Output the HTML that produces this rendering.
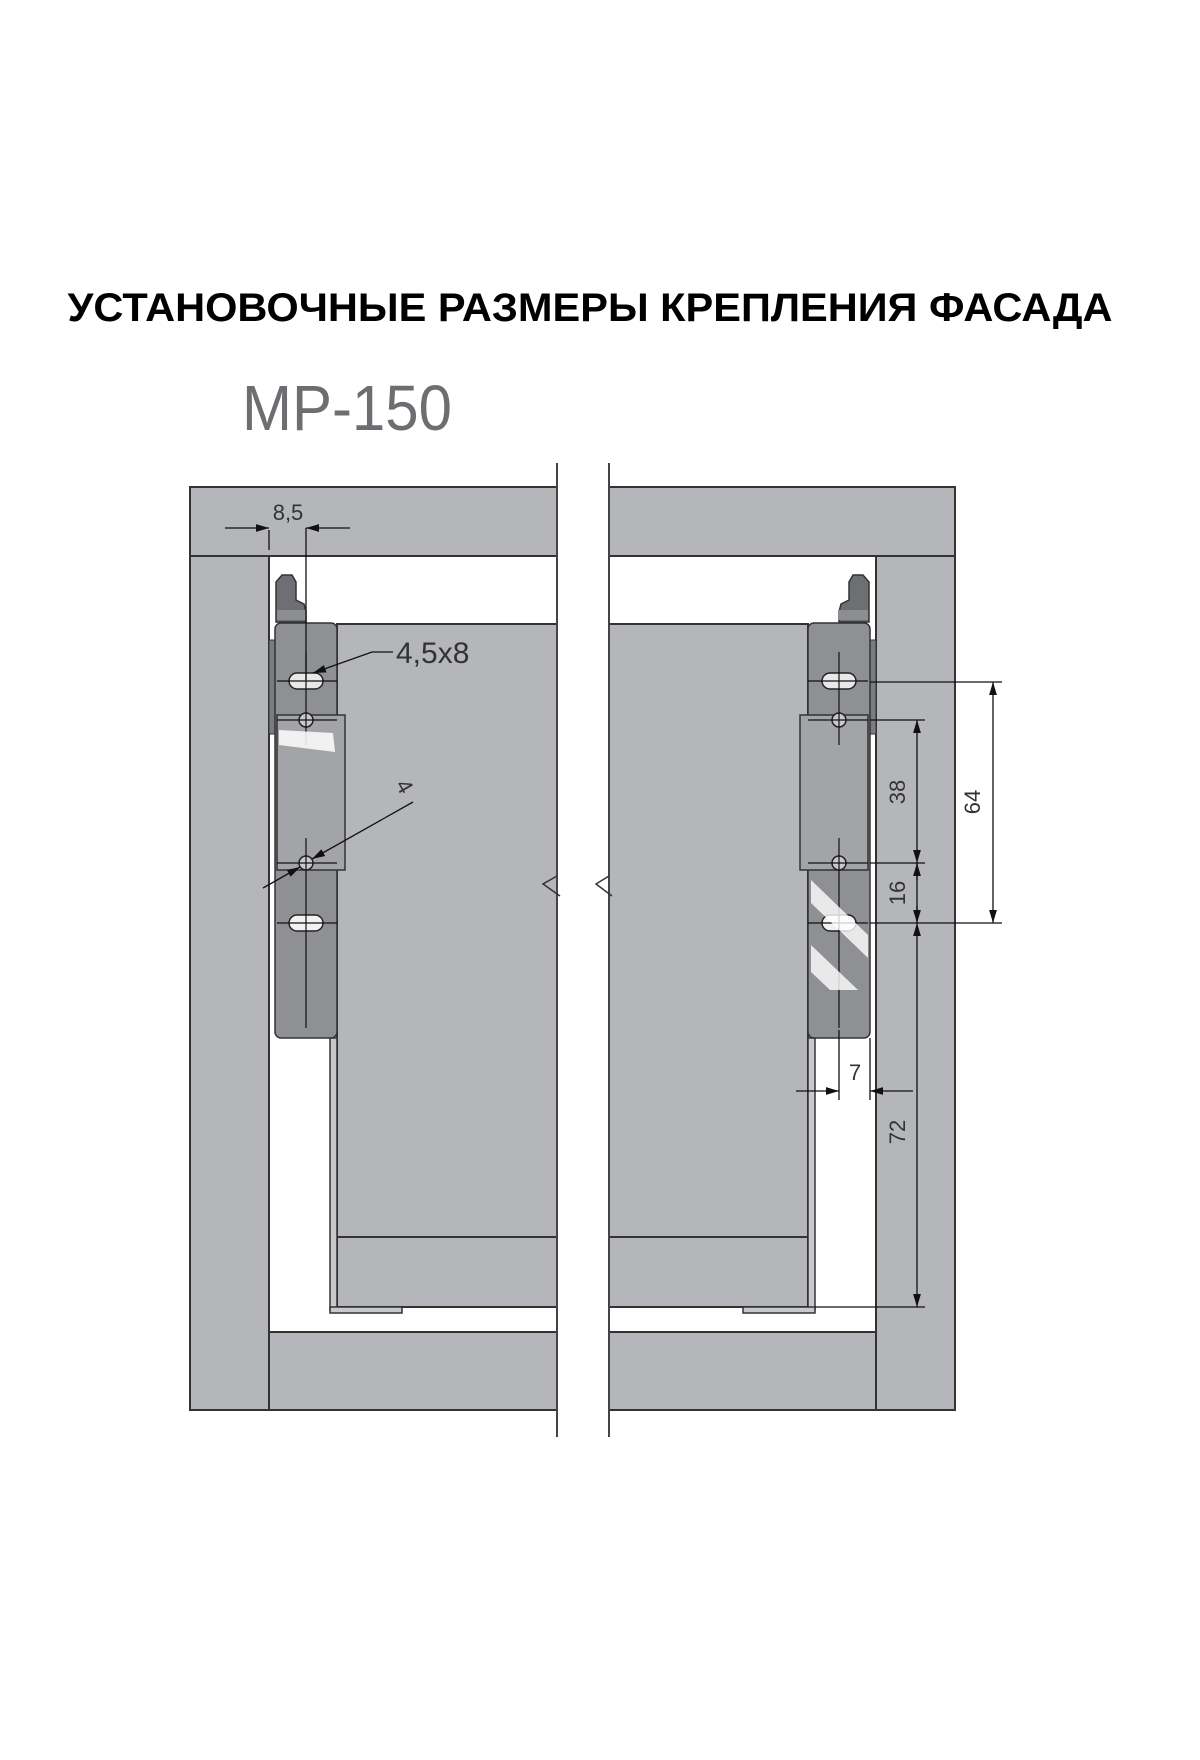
<!DOCTYPE html>
<html><head><meta charset="utf-8"><style>html,body{margin:0;padding:0;background:#fff}svg{display:block}</style></head>
<body>
<svg width="1200" height="1760" viewBox="0 0 1200 1760" xmlns="http://www.w3.org/2000/svg" font-family="Liberation Sans, sans-serif">
<defs>
<marker id="a" viewBox="0 0 10 10" refX="10" refY="5" markerWidth="13" markerHeight="13" orient="auto-start-reverse" markerUnits="userSpaceOnUse"><path d="M0,2 L10,5 L0,8z" fill="#111"/></marker>
<g id="br">
  <path d="M276,622 L276,582 L282,575 L292,575 L296,582 L296,600 L304,604 L306,612 L306,622 Z" fill="#6e6f72" stroke="#333" stroke-width="1.5"/>
  <rect x="277" y="610" width="30" height="10" fill="#8c8d90"/>
  <rect x="269" y="640" width="6" height="94" fill="#7b7c7f" stroke="#333" stroke-width="1"/>
  <rect x="275" y="623" width="62" height="415" rx="6" fill="#8f9093" stroke="#333" stroke-width="1.5"/>
  <rect x="277" y="715" width="68" height="155" fill="#a3a4a7" stroke="#333" stroke-width="1.5"/>
  <rect x="289" y="673" width="34" height="16" rx="8" fill="#e8e8e8" stroke="#222" stroke-width="1.5"/>
  <circle cx="306" cy="720" r="7" fill="#c9c9c9" stroke="#222" stroke-width="1.5"/>
  <circle cx="306" cy="863" r="7" fill="#c9c9c9" stroke="#222" stroke-width="1.5"/>
  <rect x="289" y="915" width="34" height="16" rx="8" fill="#f2f2f2" stroke="#222" stroke-width="1.5"/>
  <line x1="306" y1="652" x2="306" y2="745" stroke="#111" stroke-width="1.2"/>
  <line x1="306" y1="838" x2="306" y2="1028" stroke="#111" stroke-width="1.2"/>
  <line x1="277" y1="681" x2="337" y2="681" stroke="#111" stroke-width="1.2"/>
  <line x1="277" y1="720" x2="337" y2="720" stroke="#111" stroke-width="1.2"/>
  <line x1="277" y1="863" x2="337" y2="863" stroke="#111" stroke-width="1.2"/>
  <line x1="277" y1="923" x2="337" y2="923" stroke="#111" stroke-width="1.2"/>
</g>
</defs>

<text x="590" y="321" text-anchor="middle" font-size="40" font-weight="bold" fill="#000" textLength="1045" lengthAdjust="spacingAndGlyphs">УСТАНОВОЧНЫЕ РАЗМЕРЫ КРЕПЛЕНИЯ ФАСАДА</text>
<text x="242" y="430" font-size="64" fill="#6d6e71" textLength="210" lengthAdjust="spacingAndGlyphs">MP-150</text>

<g stroke="#333" stroke-width="2" fill="#b5b6b9">
  <rect x="190" y="487" width="367" height="69"/>
  <rect x="609" y="487" width="346" height="69"/>
  <rect x="190" y="556" width="79" height="854"/>
  <rect x="876" y="556" width="79" height="854"/>
  <rect x="269" y="1332" width="288" height="78"/>
  <rect x="609" y="1332" width="267" height="78"/>
  <path d="M337,624 L557,624 L557,1307 L337,1307 Z"/>
  <path d="M609,624 L808,624 L808,1307 L609,1307 Z"/>
  <line x1="337" y1="1237" x2="557" y2="1237"/>
  <line x1="609" y1="1237" x2="808" y2="1237"/>
  <rect x="330" y="1038" width="7" height="272" fill="#c8c9cb" stroke-width="1.5"/>
  <rect x="808" y="1038" width="7" height="272" fill="#c8c9cb" stroke-width="1.5"/>
  <rect x="330" y="1307" width="72" height="6" fill="#c8c9cb" stroke-width="1.5"/>
  <rect x="743" y="1307" width="72" height="6" fill="#c8c9cb" stroke-width="1.5"/>
</g>
<line x1="557" y1="463" x2="557" y2="1437" stroke="#444" stroke-width="2"/>
<line x1="609" y1="463" x2="609" y2="1437" stroke="#444" stroke-width="2"/>
<path d="M557,876 L543,884 L560,896" fill="none" stroke="#333" stroke-width="1.5"/>
<path d="M609,876 L596,884 L612,896" fill="none" stroke="#333" stroke-width="1.5"/>

<use href="#br"/>
<path d="M279,730 L333,733 L335,752 L279,745 Z" fill="#fff" opacity=".85"/>
<g transform="translate(1145,0) scale(-1,1)"><use href="#br"/></g>
<path d="M811,880 L868,935 L868,958 L811,903 Z" fill="#fff" opacity=".8"/>
<path d="M811,945 L858,990 L830,990 L811,972 Z" fill="#fff" opacity=".8"/>

<g stroke="#111" stroke-width="1.3" fill="none">
  <line x1="269" y1="530" x2="269" y2="550"/>
  <line x1="306" y1="528" x2="306" y2="680"/>
  <line x1="225" y1="528" x2="269" y2="528" marker-end="url(#a)"/>
  <line x1="350" y1="528" x2="306" y2="528" marker-end="url(#a)"/>
  <polyline points="393,652 372,652 313,673" marker-end="url(#a)"/>
  <line x1="413" y1="802" x2="312" y2="859" marker-end="url(#a)"/>
  <line x1="263" y1="888" x2="300" y2="867" marker-end="url(#a)"/>
  <line x1="870" y1="682" x2="1002" y2="682"/>
  <line x1="870" y1="923" x2="1002" y2="923"/>
  <line x1="870" y1="720" x2="925" y2="720"/>
  <line x1="870" y1="863" x2="925" y2="863"/>
  <line x1="815" y1="1307" x2="925" y2="1307"/>
  <line x1="993" y1="682" x2="993" y2="923" marker-start="url(#a)" marker-end="url(#a)"/>
  <line x1="917" y1="720" x2="917" y2="863" marker-start="url(#a)" marker-end="url(#a)"/>
  <line x1="917" y1="880" x2="917" y2="863" marker-end="url(#a)"/>
  <line x1="917" y1="906" x2="917" y2="923" marker-end="url(#a)"/>
  <line x1="917" y1="863" x2="917" y2="923"/>
  <line x1="917" y1="923" x2="917" y2="1307" marker-start="url(#a)" marker-end="url(#a)"/>
  <line x1="839" y1="1030" x2="839" y2="1100"/>
  <line x1="870" y1="1038" x2="870" y2="1100"/>
  <line x1="796" y1="1091" x2="839" y2="1091" marker-end="url(#a)"/>
  <line x1="913" y1="1091" x2="870" y2="1091" marker-end="url(#a)"/>
</g>
<g fill="#333" font-size="22">
  <text x="288" y="520" text-anchor="middle">8,5</text>
  <text x="396" y="663" font-size="30">4,5x8</text>
  <text x="855" y="1080" text-anchor="middle">7</text>
  <text transform="translate(398,790) rotate(60)" text-anchor="middle">4</text>
  <text transform="translate(905,792) rotate(-90)" text-anchor="middle">38</text>
  <text transform="translate(980,802) rotate(-90)" text-anchor="middle">64</text>
  <text transform="translate(905,893) rotate(-90)" text-anchor="middle">16</text>
  <text transform="translate(905,1132) rotate(-90)" text-anchor="middle">72</text>
</g>
</svg>
</body></html>
